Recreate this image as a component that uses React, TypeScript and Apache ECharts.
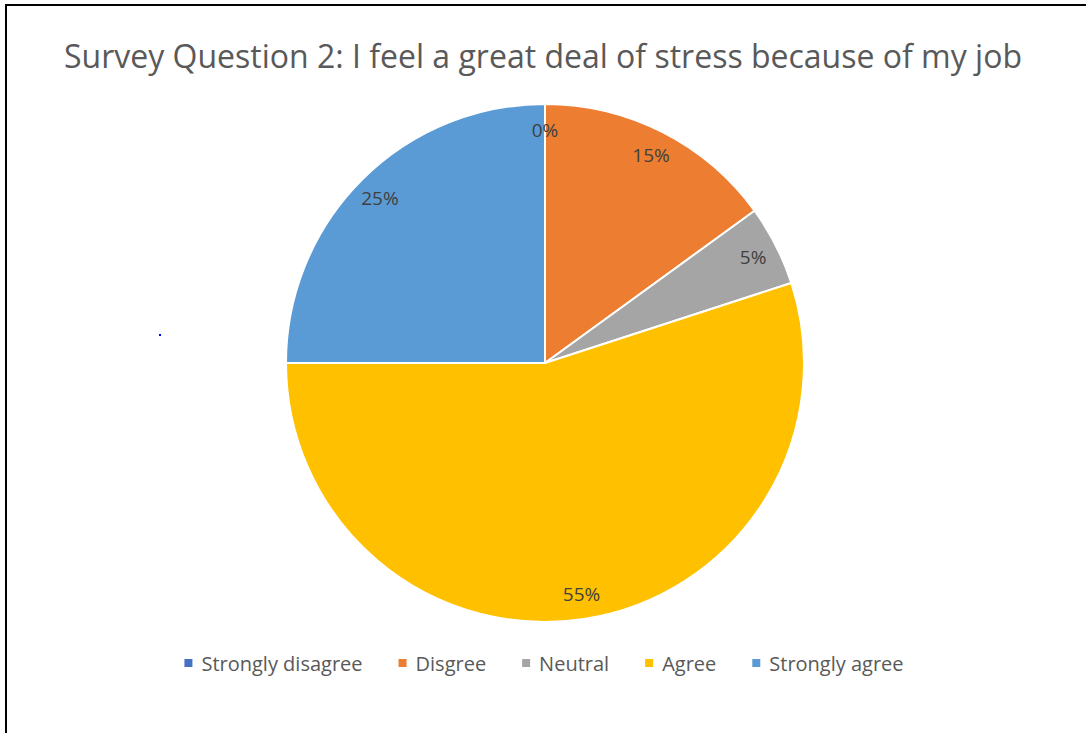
import React, { useEffect, useRef } from "react";
import * as echarts from "echarts";

const categories = ["Strongly disagree", "Disgree", "Neutral", "Agree", "Strongly agree"];
const values = [0, 15, 5, 55, 25];
const colors = ["#4472C4", "#ED7D31", "#A5A5A5", "#FFC000", "#5B9BD5"];
const titleText = "Survey Question 2: I feel a great deal of stress because of my job";

export default function App() {
  const ref = useRef<HTMLDivElement>(null);
  useEffect(() => {
    if (!ref.current) return;
    const chart = echarts.init(ref.current, null, { renderer: "svg" });
    const data = categories.map((name, i) => ({
      name,
      value: values[i],
      itemStyle: { color: colors[i] },
    }));
    const font = "Open Sans, Noto Sans, sans-serif";
    chart.setOption({
      animation: false,
      backgroundColor: "#ffffff",
      title: {
        text: titleText,
        left: "center",
        top: 34,
        textStyle: { fontFamily: font, fontSize: 32, fontWeight: "normal", color: "#595959" },
      },
      legend: {
        top: 648,
        left: "center",
        itemWidth: 10,
        itemHeight: 10,
        itemGap: 34,
        icon: "rect",
        data: categories.map((name, i) => ({ name, itemStyle: { color: colors[i] } })),
        textStyle: { fontFamily: font, fontSize: 20, color: "#595959", padding: [0, 0, 0, 3] },
      },
      series: [
        {
          type: "pie",
          center: [545, 363],
          radius: [0, 259],
          startAngle: 90,
          clockwise: true,
          data,
          itemStyle: { borderColor: "#ffffff", borderWidth: 2 },
          label: { show: false },
          labelLine: { show: false },
          emphasis: { disabled: true },
        },
        {
          type: "pie",
          center: [545, 363],
          radius: [202, 259],
          startAngle: 90,
          clockwise: true,
          silent: true,
          data: categories.map((name, i) => ({ name, value: values[i] })),
          itemStyle: { color: "rgba(0,0,0,0)", borderWidth: 0 },
          label: {
            show: true,
            position: "inside",
            formatter: "{d}%",
            fontFamily: font,
            fontSize: 19,
            color: "#404040",
          },
          labelLine: { show: false },
          emphasis: { disabled: true },
          legendHoverLink: false,
        },
      ],
      graphic: [
        { type: "rect", shape: { x: 159, y: 334, width: 2, height: 2 }, style: { fill: "#0000ff" } },
      ],
    });
    return () => chart.dispose();
  }, []);
  return (
    <div style={{ position: "fixed", left: 0, top: 0, width: 1086, height: 733, background: "#fff" }}>
      <div ref={ref} style={{ position: "absolute", left: 0, top: 0, width: 1086, height: 733 }} />
      <div
        style={{
          position: "absolute",
          left: 5,
          top: 4,
          width: 1090,
          height: 740,
          borderLeft: "2px solid #000",
          borderTop: "2px solid #000",
          pointerEvents: "none",
        }}
      />
    </div>
  );
}
